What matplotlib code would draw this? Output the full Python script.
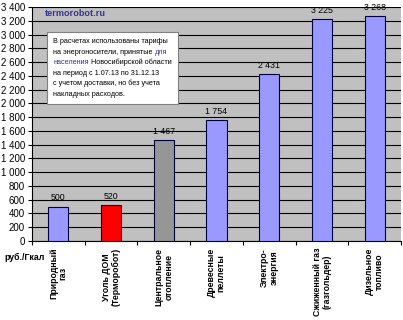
import matplotlib
matplotlib.use("Agg")
import matplotlib.pyplot as plt
from matplotlib.offsetbox import TextArea, HPacker, VPacker, AnchoredOffsetbox
from matplotlib.ticker import FuncFormatter, FixedLocator

plt.rcParams['font.family'] = ['Liberation Sans', 'DejaVu Sans']

categories = ["Природный\nгаз", "Уголь ДОМ\n(Терморобот)", "Центральное\nотопление",
              "Древесные\nпеллеты", "Электро-\nэнергия", "Сжиженный газ\n(газгольдер)",
              "Дизельное\nтопливо"]
values = [500, 520, 1467, 1754, 2431, 3225, 3268]
value_labels = ["500", "520", "1 467", "1 754", "2 431", "3 225", "3 268"]
colors = ["#9999FF", "#FF0000", "#969696", "#9999FF", "#9999FF", "#9999FF", "#9999FF"]

fig = plt.figure(figsize=(4.03, 3.2), dpi=100)
ax = fig.add_axes([32/403, 1-241/320, 369/403, 234/320])
ax.set_facecolor("#C0C0C0")

x = list(range(len(categories)))
ax.bar(x, values, width=0.38, color=colors, edgecolor="#000040", linewidth=0.8, zorder=3)
for xi, v, lab in zip(x, values, value_labels):
    ax.text(xi, v + 60, lab, ha="center", va="bottom", fontsize=6.3, color="#000000", zorder=4)

ax.set_xlim(-0.5, len(categories) - 0.5)
ax.set_ylim(0, 3400)
ax.set_yticks(range(0, 3401, 200))
ax.yaxis.set_major_formatter(FuncFormatter(lambda v, p: f"{int(v):,}".replace(",", " ")))
ax.grid(axis="y", color="#000000", linewidth=0.8, zorder=1)
ax.tick_params(axis="y", labelsize=7, length=3, width=0.8, pad=2)

ax.set_xticks(x)
ax.set_xticklabels(categories, rotation=90, fontsize=6.3, fontweight="bold", va="top", ha="center",
                   linespacing=1.1)
ax.tick_params(axis="x", length=0, pad=5)
ax.xaxis.set_minor_locator(FixedLocator([i + 0.5 for i in range(-1, len(categories))]))
ax.tick_params(axis="x", which="minor", length=3, width=0.8, color="#000000")

for s in ["top", "right"]:
    ax.spines[s].set_visible(False)
ax.spines["left"].set_color("#000000")
ax.spines["bottom"].set_color("#000000")
ax.spines["left"].set_linewidth(0.8)
ax.spines["bottom"].set_linewidth(0.8)

fig.text(45/403, 1-14/320, "termorobot.ru", fontsize=6.6, fontweight="bold", color="#333399",
         ha="left", va="center")
fig.text(4/403, 1-257/320, "руб./Гкал", fontsize=6.3, fontweight="bold", color="#000000",
         ha="left", va="center")

fs = 5.2
blue = "#333399"
def ta(s, c="#000000"):
    return TextArea(s, textprops=dict(fontsize=fs, color=c))
lines = [
    HPacker(children=[ta("В расчетах использованы тарифы")], pad=0, sep=0),
    HPacker(children=[ta("на энергоносители, принятые "), ta("для", blue)], pad=0, sep=0),
    HPacker(children=[ta("населения", blue), ta(" Новосибирской области")], pad=0, sep=0),
    HPacker(children=[ta("на период с 1.07.13 по 31.12.13")], pad=0, sep=0),
    HPacker(children=[ta("с учетом доставки, но без учета")], pad=0, sep=0),
    HPacker(children=[ta("накладных расходов.")], pad=0, sep=0),
]
vp = VPacker(children=lines, align="left", pad=0, sep=2.4)
box = AnchoredOffsetbox(loc="upper left", child=vp, pad=0.45, borderpad=0,
                        bbox_to_anchor=(47/403, 1-32/320), bbox_transform=fig.transFigure,
                        frameon=True)
box.patch.set_facecolor("white")
box.patch.set_edgecolor("#808080")
box.patch.set_linewidth(0.8)
box.patch.set_boxstyle("square,pad=0")
box.set_zorder(5)
ax.add_artist(box)

fig.savefig("out.png", dpi=100, facecolor="white")
